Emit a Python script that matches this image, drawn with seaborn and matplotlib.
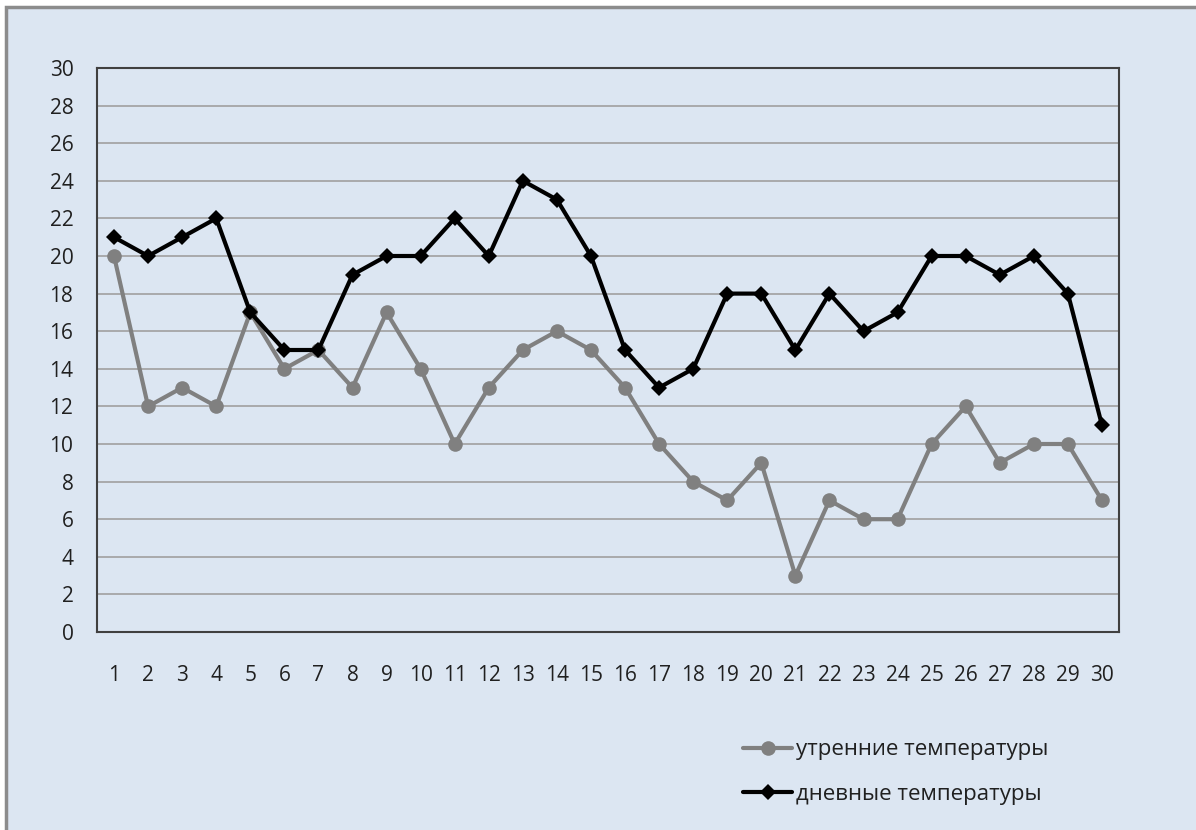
import matplotlib
matplotlib.use("Agg")
import matplotlib.pyplot as plt
import seaborn as sns
import pandas as pd

# данные
days = list(range(1, 31))
morning = [20, 12, 13, 12, 17, 14, 15, 13, 17, 14, 10, 13, 15, 16, 15,
           13, 10, 8, 7, 9, 3, 7, 6, 6, 10, 12, 9, 10, 10, 7]
daytime = [21, 20, 21, 22, 17, 15, 15, 19, 20, 20, 22, 20, 24, 23, 20,
           15, 13, 14, 18, 18, 15, 18, 16, 17, 20, 20, 19, 20, 18, 11]
label_morning = "утренние температуры"
label_day = "дневные температуры"

df = pd.DataFrame({"day": days, "morning": morning, "daytime": daytime})

bg = "#dce6f2"
sns.set_style("white")
plt.rcParams["font.family"] = ["Open Sans", "DejaVu Sans"]

fig = plt.figure(figsize=(11.96, 8.30), dpi=100, facecolor="white")

# фон и рамка (видны только левая и верхняя стороны)
fig.patches.append(plt.Rectangle((6 / 1196, -0.05), 1.1, 1.05 - 7 / 830,
                                 transform=fig.transFigure, facecolor=bg,
                                 edgecolor="#8c8c8c", lw=2.5, zorder=-10))

ax = fig.add_axes([97 / 1196, 1 - 632 / 830, 1022 / 1196, 564 / 830])
ax.set_facecolor(bg)

sns.lineplot(data=df, x="day", y="morning", ax=ax, color="#808080", lw=3,
             marker="o", markersize=10.5, markeredgewidth=0, label=label_morning)
sns.lineplot(data=df, x="day", y="daytime", ax=ax, color="black", lw=3,
             marker="D", markersize=8.5, markeredgewidth=0, label=label_day)

ax.set_xlim(0.5, 30.5)
ax.set_ylim(0, 30)
ax.set_xticks(days)
ax.set_yticks(range(0, 31, 2))
ax.tick_params(axis="x", length=0, pad=24, labelsize=15, labelcolor="#202020")
ax.tick_params(axis="y", length=0, pad=17, labelsize=15, labelcolor="#202020")
ax.yaxis.grid(True, color="#a0a0a0", lw=1.2)
ax.set_axisbelow(True)
ax.set_xlabel("")
ax.set_ylabel("")
for s in ax.spines.values():
    s.set_color("#404040")
    s.set_linewidth(1.5)

leg = ax.legend(loc="upper left", bbox_to_anchor=(0.613, -0.155), frameon=False,
                fontsize=16, handlelength=2.2, handletextpad=0.15,
                labelspacing=1.05, labelcolor="#202020")

fig.savefig("out.png", dpi=100, facecolor="white")
